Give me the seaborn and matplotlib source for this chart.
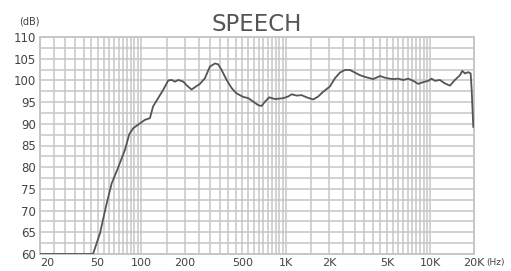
import numpy as np
import pandas as pd
import matplotlib
matplotlib.use("Agg")
import matplotlib.pyplot as plt
import seaborn as sns

# ---- data ----
freq_hz = [20, 46.5, 49.3, 52, 57.1, 62.6, 68.4, 77.3, 82.8, 88.3, 98.2, 106, 115,
           121, 131, 142, 154, 163, 171, 181, 196, 206, 223, 242, 255, 276, 299,
           324, 341, 360, 390, 423, 457, 508, 551, 596, 645, 680, 718, 769, 841,
           960, 1040, 1097, 1188, 1287, 1394, 1548, 1676, 1816, 2018, 2187, 2368,
           2564, 2777, 3007, 3254, 3622, 4020, 4477, 4978, 5534, 5984, 6486, 7016,
           7603, 8224, 8912, 9660, 10186, 10740, 11616, 12590, 13646, 14758, 15996,
           16596, 17300, 18240, 18960, 19276, 19770]
spl_db = [60, 60, 62.5, 64.8, 70.9, 76.3, 79.4, 84.0, 87.6, 89.0, 90.1, 90.9, 91.3,
          94.0, 95.9, 97.8, 100.0, 100.1, 99.7, 100.1, 99.7, 98.9, 97.9, 98.7, 99.2,
          100.5, 103.2, 103.9, 103.7, 102.4, 100.1, 98.2, 97.0, 96.2, 95.9, 95.1,
          94.3, 94.1, 95.1, 96.1, 95.7, 95.9, 96.3, 96.8, 96.5, 96.6, 96.1, 95.6,
          96.3, 97.4, 98.6, 100.5, 101.8, 102.4, 102.4, 101.8, 101.2, 100.7, 100.3,
          101.0, 100.5, 100.3, 100.4, 100.1, 100.4, 99.9, 99.2, 99.6, 99.9, 100.4,
          99.9, 100.1, 99.3, 98.8, 100.1, 101.2, 102.2, 101.6, 101.9, 101.6, 97.8,
          89.3]
x_tick_values = [20, 50, 100, 200, 500, 1000, 2000, 5000, 10000, 20000]
x_tick_labels = ["20", "50", "100", "200", "500", "1K", "2K", "5K", "10K", "20K"]
y_tick_values = [60, 65, 70, 75, 80, 85, 90, 95, 100, 105, 110]
title_text = "SPEECH"

df = pd.DataFrame({"freq": freq_hz, "spl": spl_db})

W, H = 511, 271
fig = plt.figure(figsize=(W / 100, H / 100), dpi=100)
ax = fig.add_axes([40 / W, 1 - 254 / H, (474 - 40) / W, (254 - 37) / H])

sns.lineplot(data=df, x="freq", y="spl", ax=ax, color="#555555", linewidth=1.3,
             zorder=5)

ax.set_xscale("log")
ax.set_xlim(20, 20000)
ax.set_ylim(60, 110)

# vertical grid positions (styling)
grid_x = (list(np.arange(25, 100, 5)) + list(np.arange(150, 1000, 50))
          + list(np.arange(1500, 10000, 500)) + [100, 1000, 10000])
ax.set_xticks(grid_x, minor=True)
ax.set_xticks(x_tick_values)
ax.set_xticklabels(x_tick_labels)
ax.set_yticks(y_tick_values)
ax.set_yticks(np.arange(62.5, 110, 5), minor=True)
ax.xaxis.set_minor_formatter(matplotlib.ticker.NullFormatter())

gc = "#c6c6c6"
ax.grid(which="both", color=gc, linewidth=1.1)
ax.set_axisbelow(True)
for s in ax.spines.values():
    s.set_color(gc)
    s.set_linewidth(1.4)
ax.tick_params(which="both", length=0)
ax.tick_params(axis="x", pad=3, labelsize=8, labelcolor="#444444")
ax.tick_params(axis="y", pad=3, labelsize=8.5, labelcolor="#444444")
ax.set_xlabel("")
ax.set_ylabel("")
lbls = ax.get_xticklabels()
lbls[0].set_horizontalalignment("left")

fig.text(257 / W, 1 - 30.7 / H, title_text, ha="center", va="baseline",
         fontsize=16.5, color="#555555")
fig.text(29.5 / W, 1 - 25 / H, "(dB)", ha="center", va="baseline",
         fontsize=7, color="#444444")
fig.text(486 / W, 1 - 265.5 / H, "(Hz)", ha="left", va="baseline",
         fontsize=6.5, color="#444444")

fig.savefig("out.png", dpi=100)
